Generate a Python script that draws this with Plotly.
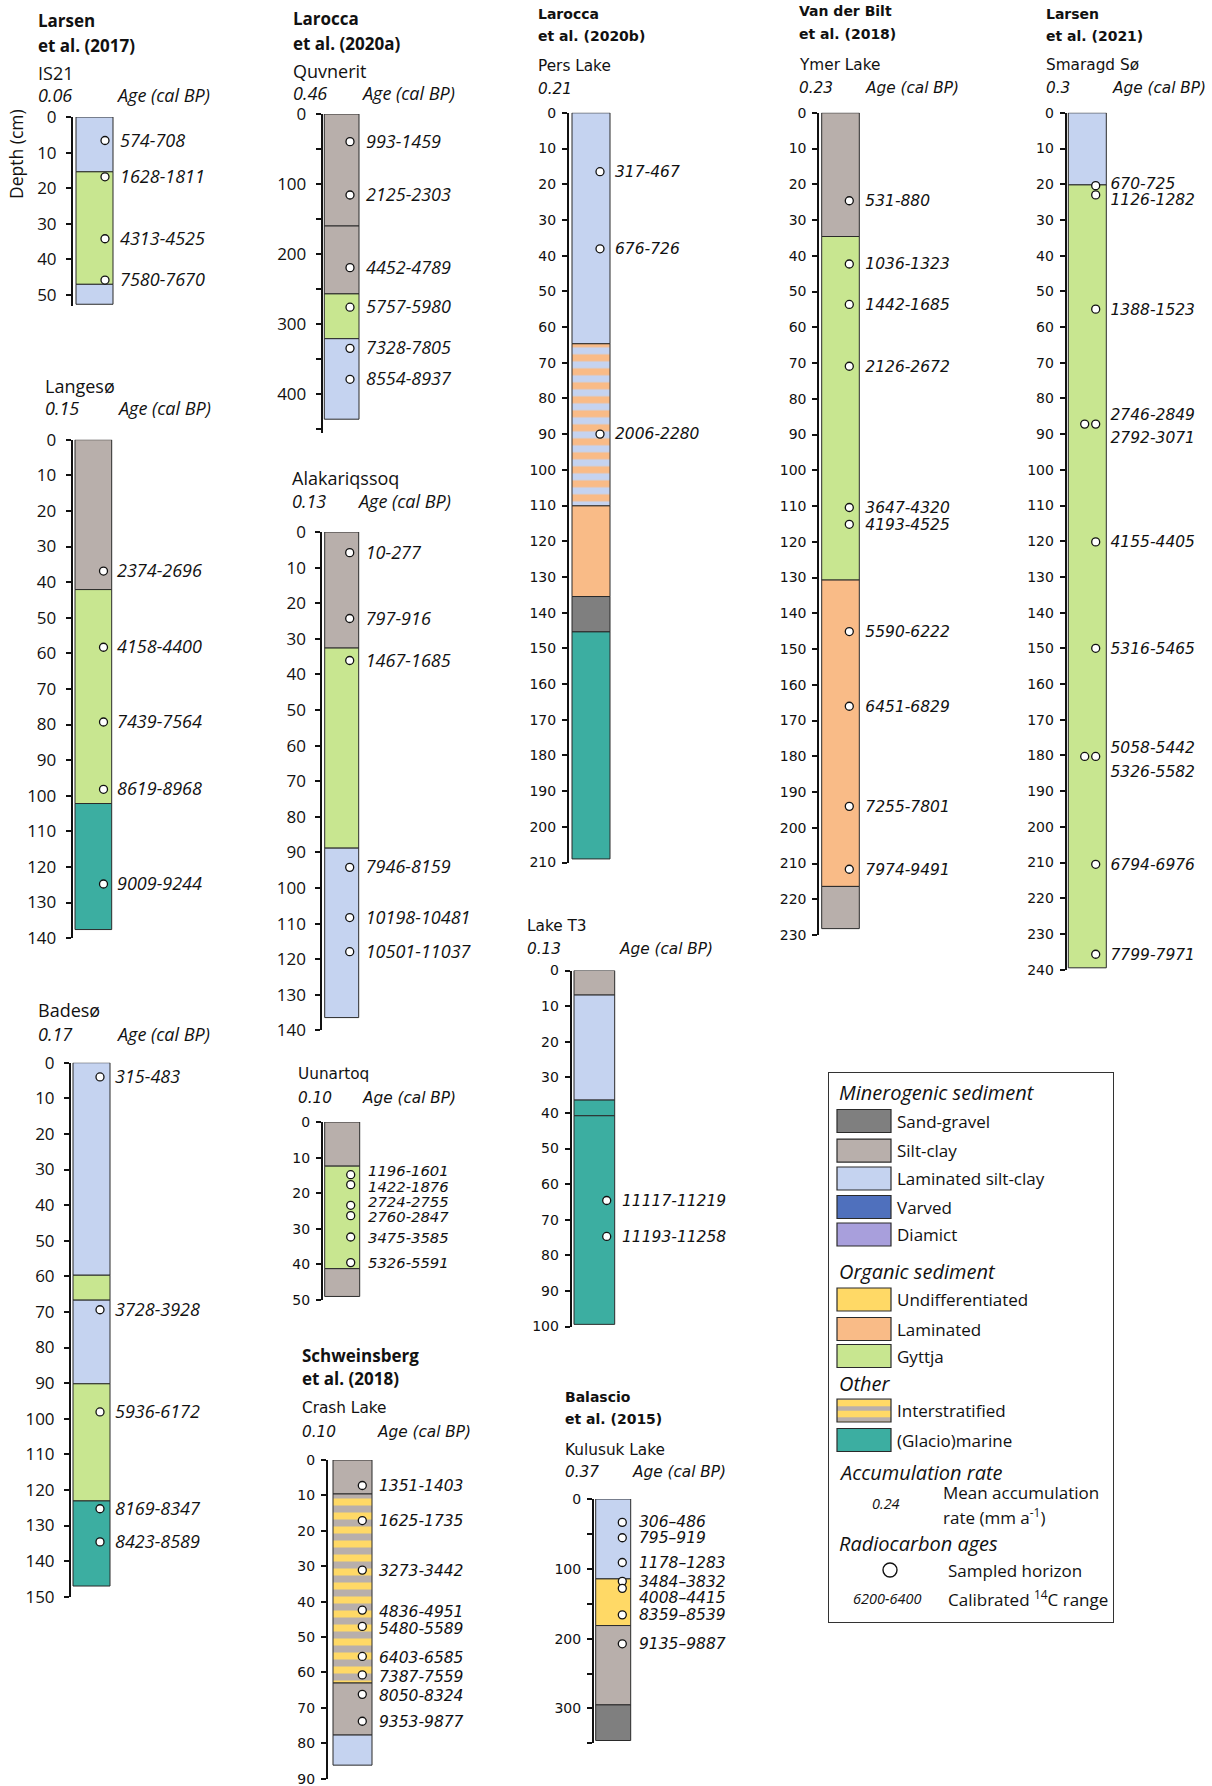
import plotly.graph_objects as go

# ----------------------------------------------------------------- data ----
# depth boundaries of the lithological units (cm), lithology codes, sampled
# horizons (cm) and calibrated 14C age ranges (cal BP) for every core
IS21_BOUNDS = [0, 15.4, 47.0, 52.6]
IS21_LITH = ['LSC', 'GYT', 'LSC']
IS21_SAMPLES = [6.6, 16.8, 34.2, 45.8]
IS21_AGES = ['574-708', '1628-1811', '4313-4525', '7580-7670']

LANGESO_BOUNDS = [0, 42.1, 102.2, 137.6]
LANGESO_LITH = ['SC', 'GYT', 'GM']
LANGESO_SAMPLES = [36.9, 58.3, 79.3, 98.2, 124.8]
LANGESO_AGES = ['2374-2696', '4158-4400', '7439-7564', '8619-8968', '9009-9244']

BADESO_BOUNDS = [0, 59.7, 66.7, 90.2, 123.1, 147.0]
BADESO_LITH = ['LSC', 'GYT', 'LSC', 'GYT', 'GM']
BADESO_SAMPLES = [4.0, 69.4, 98.1, 125.3, 134.6]
BADESO_AGES = ['315-483', '3728-3928', '5936-6172', '8169-8347', '8423-8589']

QUVNERIT_BOUNDS = [0, 160, 257, 321, 436]
QUVNERIT_LITH = ['SC', 'SC', 'GYT', 'LSC']
QUVNERIT_SAMPLES = [39.5, 115.7, 219.5, 276, 334.8, 379]
QUVNERIT_AGES = ['993-1459', '2125-2303', '4452-4789', '5757-5980', '7328-7805', '8554-8937']

ALAK_BOUNDS = [0, 32.6, 88.8, 136.4]
ALAK_LITH = ['SC', 'GYT', 'LSC']
ALAK_SAMPLES = [5.8, 24.3, 36.1, 94.2, 108.3, 117.9]
ALAK_AGES = ['10-277', '797-916', '1467-1685', '7946-8159', '10198-10481', '10501-11037']

UUNARTOQ_BOUNDS = [0, 12.4, 41.2, 49.0]
UUNARTOQ_LITH = ['SC', 'GYT', 'SC']
UUNARTOQ_SAMPLES = [14.8, 17.6, 23.4, 26.3, 32.3, 39.5]
UUNARTOQ_LABEL_DEPTHS = [13.6, 18.3, 22.4, 26.6, 32.4, 39.6]
UUNARTOQ_AGES = ['1196-1601', '1422-1876', '2724-2755', '2760-2847', '3475-3585', '5326-5591']

CRASH_BOUNDS = [0, 9.6, 63.0, 77.7, 86.2]
CRASH_LITH = ['SC', 'INT_SCU', 'SC', 'LSC']
CRASH_SAMPLES = [7.2, 17.1, 31.1, 42.4, 47.0, 55.5, 60.7, 66.2, 73.8]
CRASH_LABEL_DEPTHS = [7.3, 17.2, 31.3, 42.8, 47.6, 55.7, 61.1, 66.6, 73.9]
CRASH_AGES = ['1351-1403', '1625-1735', '3273-3442', '4836-4951', '5480-5589',
              '6403-6585', '7387-7559', '8050-8324', '9353-9877']

PERS_BOUNDS = [0, 64.7, 110.1, 135.5, 145.4, 209.0]
PERS_LITH = ['LSC', 'INT_LAM', 'LAM', 'SG', 'GM']
PERS_SAMPLES = [16.5, 38.1, 90.0]
PERS_AGES = ['317-467', '676-726', '2006-2280']

T3_BOUNDS = [0, 6.9, 36.4, 40.8, 99.4]
T3_LITH = ['SC', 'LSC', 'GM', 'GM']
T3_SAMPLES = [64.6, 74.7]
T3_AGES = ['11117-11219', '11193-11258']

KULUSUK_BOUNDS = [0, 114.5, 181.3, 295.0, 346.0]
KULUSUK_LITH = ['LSC', 'UND', 'SC', 'SG']
KULUSUK_SAMPLES = [33.5, 55.5, 91.0, 118.0, 128.0, 166.0, 207.5]
KULUSUK_LABEL_DEPTHS = [31.8, 55.5, 91.0, 118.5, 142.0, 165.5, 207.0]
KULUSUK_AGES = ['306–486', '795–919', '1178–1283', '3484–3832', '4008–4415',
                '8359–8539', '9135–9887']

YMER_BOUNDS = [0, 34.6, 130.7, 216.4, 228.2]
YMER_LITH = ['SC', 'GYT', 'LAM', 'SC']
YMER_SAMPLES = [24.6, 42.3, 53.6, 70.9, 110.4, 115.1, 145.1, 166.0, 194.0, 211.6]
YMER_AGES = ['531-880', '1036-1323', '1442-1685', '2126-2672', '3647-4320',
             '4193-4525', '5590-6222', '6451-6829', '7255-7801', '7974-9491']

SMARAGD_BOUNDS = [0, 20.2, 239.5]
SMARAGD_LITH = ['LSC', 'GYT']
SMARAGD_SAMPLES = [20.4, 23.0, 55.0, 87.2, 87.2, 120.2, 150.0, 180.3, 180.3, 210.5, 235.7]
SMARAGD_LABEL_DEPTHS = [19.8, 24.3, 55.0, 84.5, 91.0, 120.2, 150.0, 177.7, 184.5, 210.5, 235.7]
SMARAGD_AGES = ['670-725', '1126-1282', '1388-1523', '2746-2849', '2792-3071',
                '4155-4405', '5316-5465', '5058-5442', '5326-5582', '6794-6976', '7799-7971']

SITE_NAMES = ['IS21', 'Langesø', 'Badesø', 'Quvnerit', 'Alakariqssoq', 'Uunartoq',
              'Crash Lake', 'Pers Lake', 'Lake T3', 'Kulusuk Lake', 'Ymer Lake', 'Smaragd Sø']
ACC_RATES = ['0.06', '0.15', '0.17', '0.46', '0.13', '0.10',
             '0.10', '0.21', '0.13', '0.37', '0.23', '0.3']

STUDY_AUTHORS = ['Larsen', 'Larocca', 'Schweinsberg', 'Larocca', 'Balascio', 'Van der Bilt', 'Larsen']
STUDY_YEARS = ['(2017)', '(2020a)', '(2018)', '(2020b)', '(2015)', '(2018)', '(2021)']

LEGEND_HEADINGS = ['Minerogenic sediment', 'Organic sediment', 'Other',
                   'Accumulation rate', 'Radiocarbon ages']
LEGEND_KEYS = ['SG', 'SC', 'LSC', 'VAR', 'DIA', 'UND', 'LAM', 'GYT', 'INT_SCU', 'GM']
LEGEND_LABELS = ['Sand-gravel', 'Silt-clay', 'Laminated silt-clay', 'Varved', 'Diamict',
                 'Undifferentiated', 'Laminated', 'Gyttja', 'Interstratified', '(Glacio)marine']
LEGEND_RATE_EXAMPLE = '0.24'
LEGEND_AGE_EXAMPLE = '6200-6400'

CORE_DATA = [
    (IS21_BOUNDS, IS21_LITH, IS21_SAMPLES, None, IS21_AGES),
    (LANGESO_BOUNDS, LANGESO_LITH, LANGESO_SAMPLES, None, LANGESO_AGES),
    (BADESO_BOUNDS, BADESO_LITH, BADESO_SAMPLES, None, BADESO_AGES),
    (QUVNERIT_BOUNDS, QUVNERIT_LITH, QUVNERIT_SAMPLES, None, QUVNERIT_AGES),
    (ALAK_BOUNDS, ALAK_LITH, ALAK_SAMPLES, None, ALAK_AGES),
    (UUNARTOQ_BOUNDS, UUNARTOQ_LITH, UUNARTOQ_SAMPLES, UUNARTOQ_LABEL_DEPTHS, UUNARTOQ_AGES),
    (CRASH_BOUNDS, CRASH_LITH, CRASH_SAMPLES, CRASH_LABEL_DEPTHS, CRASH_AGES),
    (PERS_BOUNDS, PERS_LITH, PERS_SAMPLES, None, PERS_AGES),
    (T3_BOUNDS, T3_LITH, T3_SAMPLES, None, T3_AGES),
    (KULUSUK_BOUNDS, KULUSUK_LITH, KULUSUK_SAMPLES, KULUSUK_LABEL_DEPTHS, KULUSUK_AGES),
    (YMER_BOUNDS, YMER_LITH, YMER_SAMPLES, None, YMER_AGES),
    (SMARAGD_BOUNDS, SMARAGD_LITH, SMARAGD_SAMPLES, SMARAGD_LABEL_DEPTHS, SMARAGD_AGES),
]

# --------------------------------------------------------------- styles ----
FIG_W, FIG_H = 1212, 1786
OS = 'Open Sans'
DV = 'DejaVu Sans'
INK = '#111111'
LABEL_NUDGE_PX = 1.5          # age labels sit slightly below their anchor depth

LITH_STYLE = {
    'SG': dict(color='#7f7f7f'),
    'SC': dict(color='#b8afab'),
    'LSC': dict(color='#c5d3f0'),
    'VAR': dict(color='#4f70bd'),
    'DIA': dict(color='#a89fdc'),
    'UND': dict(color='#ffd966'),
    'LAM': dict(color='#f9bb87'),
    'GYT': dict(color='#c8e690'),
    'GM': dict(color='#3caea1'),
    'INT_SCU': dict(color='#ffd966', stripe='#b8afab'),
    'INT_LAM': dict(color='#c5d3f0', stripe='#f9bb87'),
}

FONTSET = {
    'os': dict(family=OS, tick=17, age=18, head=18, title=17, standoff=6),
    'dv': dict(family=DV, tick=14, age=15.5, head=15.3, title=14, standoff=3),
}

# page layout of every core (pixels on the 1212 x 1786 page)
CORE_LAYOUT = [
    dict(ax=73, top=117, ppc=3.56, end=53, box=(76, 113), circ=105, lab=120, fs='os', step=10,
         site=(35.5, 72.7), rate_y=95, age_x=114),
    dict(ax=72.7, top=439.7, ppc=3.56, end=140, box=(75, 111.7), circ=103.5, lab=117, fs='os', step=10,
         site=(43, 386), rate_y=408, age_x=115),
    dict(ax=71, top=1062.7, ppc=3.56, end=150, box=(73, 110), circ=100, lab=115, fs='os', step=10,
         site=(36, 1010), rate_y=1034, age_x=114),
    dict(ax=322.7, top=114, ppc=0.70, end=456, box=(324.3, 359), circ=350, lab=366, fs='os', step=100,
         site=(290.5, 70.7), rate_y=93.3, age_x=359),
    dict(ax=322.3, top=532, ppc=3.56, end=140, box=(324.7, 358.7), circ=349.7, lab=365.7, fs='os', step=10,
         site=(289.5, 478.4), rate_y=501, age_x=355),
    dict(ax=323, top=1122, ppc=3.56, end=50, box=(324.7, 359.7), circ=350.7, lab=368, fs='dv', step=10,
         site=(295.5, 1074), rate_y=1098, age_x=360.3, age_size=14.8),
    dict(ax=328, top=1460, ppc=3.54, end=90, box=(333, 372), circ=362.3, lab=379, fs='dv', step=10,
         site=(300, 1408), rate_y=1432, age_x=375),
    dict(ax=569, top=112.8, ppc=3.57, end=210, box=(572, 610), circ=600, lab=615, fs='dv', step=10,
         site=(536, 66), rate_y=88.8, age_x=None),
    dict(ax=571.7, top=970.5, ppc=3.56, end=100, box=(574, 614.7), circ=606.7, lab=622, fs='dv', step=10,
         site=(525, 926), rate_y=948.8, age_x=616.7),
    dict(ax=594, top=1499, ppc=0.698, end=350, box=(595.7, 630.7), circ=622.3, lab=639, fs='dv', step=100,
         site=(562.5, 1450), rate_y=1471.6, age_x=630),
    dict(ax=819.3, top=112.8, ppc=3.575, end=230, box=(821.7, 859.3), circ=849.3, lab=865.3, fs='dv', step=10,
         site=(796.5, 65), rate_y=87.7, age_x=863.3),
    dict(ax=1066.7, top=112.8, ppc=3.57, end=240, box=(1068.3, 1106.3), circ=1095.7, lab=1110.5, fs='dv', step=10,
         site=(1044, 65), rate_y=87.7, age_x=1110),
]

# study title positions: (x, y line 1, y line 2, font set)
STUDY_LAYOUT = [
    (35.5, 20.7, 45.7, 'os'),
    (290.5, 18.3, 43.3, 'os'),
    (300, 1355.5, 1378.5, 'os'),
    (536, 13.7, 36.5, 'dv'),
    (562.5, 1396.5, 1419, 'dv'),
    (796.5, 11.4, 34.2, 'dv'),
    (1044, 13.7, 36.5, 'dv'),
]


def fx(p):
    return p / FIG_W


def fy(p):
    return 1 - p / FIG_H


fig = go.Figure()
layout_axes = {}
annotations = []


def ann(x, y, text, family, size, xref='paper', yref='paper', xanchor='left', **kw):
    if xref == 'paper':
        x = fx(x)
    if yref == 'paper':
        y = fy(y)
    annotations.append(dict(x=x, y=y, xref=xref, yref=yref, text=text, showarrow=False,
                            xanchor=xanchor, yanchor='middle',
                            font=dict(family=family, size=size, color=INK), **kw))


def marker_for(key, line_w=1):
    st = LITH_STYLE[key]
    m = dict(color=st['color'], line=dict(color='#2a2a2a', width=line_w))
    if 'stripe' in st:
        m['pattern'] = dict(shape='-', fgcolor=st['stripe'], bgcolor=st['color'],
                            size=14, solidity=0.5, fillmode='replace')
    return m


# ---------------------------------------------------------------- cores ----
for i, ((bounds, lith, samples, label_depths, ages), L) in enumerate(zip(CORE_DATA, CORE_LAYOUT), start=1):
    xname, yname = f'x{i}', f'y{i}'
    xkey = 'xaxis' if i == 1 else f'xaxis{i}'
    ykey = 'yaxis' if i == 1 else f'yaxis{i}'
    F = FONTSET[L['fs']]
    xw = min(140, FIG_W - L['ax'] - 0.5)
    bottom_px = min(L['top'] + L['end'] * L['ppc'], FIG_H)

    step = L['step']
    tickvals = list(range(0, int(L['end']) + 1, step))
    ya = dict(domain=[max(0, fy(bottom_px)), fy(L['top'])], range=[L['end'], 0],
              anchor=xname, showline=True, linecolor=INK, linewidth=2,
              ticks='outside', ticklen=5, tickwidth=2, tickcolor=INK,
              tickmode='array', tickvals=tickvals, ticktext=[str(v) for v in tickvals],
              ticklabelstandoff=F['standoff'], automargin=False, ticklabeloverflow='allow',
              tickfont=dict(family=F['family'], size=F['tick'], color=INK),
              showgrid=False, zeroline=False, fixedrange=True)
    if step == 100:
        ya['minor'] = dict(ticks='outside', ticklen=5, tickwidth=2, tickcolor=INK, showgrid=False,
                           tickmode='array',
                           tickvals=list(range(50, int(L['end']) + 1, 100)))
    layout_axes[ykey] = ya
    layout_axes[xkey] = dict(domain=[fx(L['ax']), fx(L['ax'] + xw)], range=[0, xw],
                             anchor=yname, visible=False, fixedrange=True, automargin=False)

    xc = (L['box'][0] + L['box'][1]) / 2 - L['ax']
    bw = L['box'][1] - L['box'][0]
    for b0, b1, key in zip(bounds[:-1], bounds[1:], lith):
        fig.add_trace(go.Bar(x=[xc], y=[b1 - b0], base=[b0], width=[bw], marker=marker_for(key),
                             xaxis=xname, yaxis=yname, showlegend=False, hoverinfo='skip'))

    cx = []
    for k, d in enumerate(samples):
        shift = 11 if (k + 1 < len(samples) and samples[k + 1] == d) else 0
        cx.append(L['circ'] - L['ax'] - shift)
    fig.add_trace(go.Scatter(x=cx, y=samples, mode='markers', cliponaxis=False,
                             marker=dict(size=8, color='white', line=dict(color=INK, width=1.3)),
                             xaxis=xname, yaxis=yname, showlegend=False, hoverinfo='skip'))

    ly = label_depths if label_depths is not None else samples
    nudge = LABEL_NUDGE_PX / L['ppc']
    fig.add_trace(go.Scatter(x=[L['lab'] - L['ax']] * len(ages), y=[d + nudge for d in ly],
                             mode='text', cliponaxis=False,
                             text=[f'<i>{a}</i>' for a in ages], textposition='middle right',
                             textfont=dict(family=F['family'], size=L.get('age_size', F['age']), color=INK),
                             xaxis=xname, yaxis=yname, showlegend=False, hoverinfo='skip'))

    sx, sy = L['site']
    ann(sx, sy, SITE_NAMES[i - 1], F['family'], F['head'])
    ann(sx, L['rate_y'], f'<i>{ACC_RATES[i - 1]}</i>', F['family'], F['head'])
    if L['age_x'] is not None:
        ann(L['age_x'], L['rate_y'], '<i>Age (cal BP)</i>', F['family'], F['head'])

for author, year, (x, y1, y2, fs) in zip(STUDY_AUTHORS, STUDY_YEARS, STUDY_LAYOUT):
    F = FONTSET[fs]
    ann(x, y1, f'<b>{author}</b>', F['family'], F['title'])
    ann(x, y2, f'<b>et al. {year}</b>', F['family'], F['title'])

ann(16, 154, 'Depth (cm)', OS, 17.5, xanchor='center', textangle=-90)

# --------------------------------------------------------------- legend ----
LG = 13
LBOX = (829.3, 1113.3, 1073, 1622)
layout_axes[f'xaxis{LG}'] = dict(domain=[fx(LBOX[0]), fx(LBOX[1])], range=[LBOX[0], LBOX[1]],
                                 anchor=f'y{LG}', showline=True, mirror=True, linecolor='#333',
                                 linewidth=1, showticklabels=False, ticks='', showgrid=False,
                                 zeroline=False, fixedrange=True, automargin=False)
layout_axes[f'yaxis{LG}'] = dict(domain=[fy(LBOX[3]), fy(LBOX[2])], range=[LBOX[3], LBOX[2]],
                                 anchor=f'x{LG}', showline=True, mirror=True, linecolor='#333',
                                 linewidth=1, showticklabels=False, ticks='', showgrid=False,
                                 zeroline=False, fixedrange=True, automargin=False)
LXR, LYR = f'x{LG}', f'y{LG}'
HEAD_Y = [1092.5, 1271.5, 1383, 1472, 1543.5]
ITEM_Y = [1121, 1150.6, 1178.5, 1207, 1234.5, 1299.5, 1329, 1356, 1410.5, 1440]
SW_X0, SW_W, SW_H, TXT_X = 837, 54, 23, 895

for h, y in zip(LEGEND_HEADINGS, HEAD_Y):
    ann(837, y, f'<i>{h}</i>', OS, 20, xref=LXR, yref=LYR)

for key, label, y in zip(LEGEND_KEYS, LEGEND_LABELS, ITEM_Y):
    m = marker_for(key, line_w=1.2)
    if 'pattern' in m:
        m['pattern']['size'] = 11
        m['pattern']['solidity'] = 0.4
    fig.add_trace(go.Bar(orientation='h', y=[y], x=[SW_W], base=[SW_X0], width=[SW_H], marker=m,
                         xaxis=LXR, yaxis=LYR, showlegend=False, hoverinfo='skip'))
    ann(TXT_X, y, label, OS, 17, xref=LXR, yref=LYR)

ann(886, 1503.5, f'<i>{LEGEND_RATE_EXAMPLE}</i>', OS, 14.5, xref=LXR, yref=LYR, xanchor='center')
ann(941, 1492.5, 'Mean accumulation', OS, 17, xref=LXR, yref=LYR)
ann(941, 1516, 'rate (mm a<sup>-1</sup>)', OS, 17, xref=LXR, yref=LYR)
fig.add_trace(go.Scatter(x=[890], y=[1570], mode='markers', cliponaxis=False,
                         marker=dict(size=14, color='white', line=dict(color=INK, width=1.4)),
                         xaxis=LXR, yaxis=LYR, showlegend=False, hoverinfo='skip'))
ann(946, 1570, 'Sampled horizon', OS, 17, xref=LXR, yref=LYR)
ann(887, 1598.5, f'<i>{LEGEND_AGE_EXAMPLE}</i>', OS, 14.5, xref=LXR, yref=LYR, xanchor='center')
ann(946, 1598.5, 'Calibrated <sup>14</sup>C range', OS, 17, xref=LXR, yref=LYR)

fig.update_layout(width=FIG_W, height=FIG_H, margin=dict(l=0, r=0, t=0, b=0, pad=0, autoexpand=False),
                  paper_bgcolor='white', plot_bgcolor='rgba(0,0,0,0)', barmode='overlay',
                  showlegend=False, annotations=annotations, **layout_axes)

fig.write_html("out.html", config={'displayModeBar': False},
               post_script="document.body.style.margin='0';document.body.style.overflow='hidden';")
